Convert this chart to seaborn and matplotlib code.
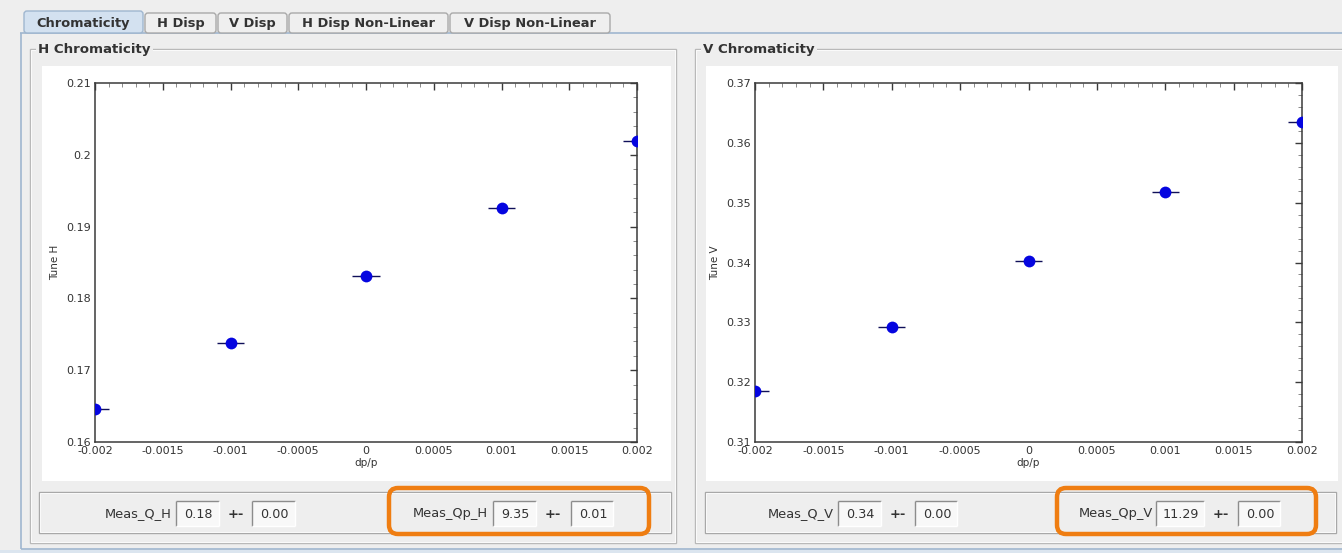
import matplotlib
matplotlib.use("Agg")
import matplotlib.pyplot as plt
import numpy as np
import pandas as pd
import seaborn as sns
from matplotlib.patches import Rectangle, FancyBboxPatch
from matplotlib.ticker import MultipleLocator, AutoMinorLocator, FuncFormatter

# ---- data -------------------------------------------------------------
dp_p = [-0.002, -0.001, 0.0, 0.001, 0.002]
tune_h = [0.1646, 0.1738, 0.1831, 0.1926, 0.2019]
tune_v = [0.3185, 0.3292, 0.3403, 0.3518, 0.3635]
dp_err = [0.0001, 0.0001, 0.0001, 0.0001, 0.0001]

tab_names = ["Chromaticity", "H Disp", "V Disp", "H Disp Non-Linear", "V Disp Non-Linear"]
group_titles = ["H Chromaticity", "V Chromaticity"]
y_labels = ["Tune H", "Tune V"]
x_label = "dp/p"
meas_q_labels = ["Meas_Q_H", "Meas_Q_V"]
meas_q_values = ["0.18", "0.34"]
meas_q_errors = ["0.00", "0.00"]
meas_qp_labels = ["Meas_Qp_H", "Meas_Qp_V"]
meas_qp_values = ["9.35", "11.29"]
meas_qp_errors = ["0.01", "0.00"]

# ---- style ------------------------------------------------------------
sns.set_theme(style="white")
plt.rcParams["font.family"] = ["DejaVu Sans"]
plt.rcParams["axes.unicode_minus"] = False

W, H = 1342, 553
BG = "#eeeeee"
TXT = "#333333"
fig = plt.figure(figsize=(W / 100, H / 100), dpi=100, facecolor=BG)

# full-figure canvas in pixel units for the window furniture
bg = fig.add_axes([0, 0, 1, 1], zorder=0)
bg.set_xlim(0, W)
bg.set_ylim(H, 0)
bg.axis("off")
bg.set_facecolor(BG)


def rect(x0, y0, x1, y1, fc="none", ec="none", lw=1.0, z=1):
    bg.add_patch(Rectangle((x0, y0), x1 - x0, y1 - y0, facecolor=fc,
                           edgecolor=ec, linewidth=lw, zorder=z))


def hline(x0, x1, y, c, lw=1.0, z=2):
    bg.plot([x0, x1], [y, y], color=c, lw=lw, zorder=z, solid_capstyle="butt")


def vline(x, y0, y1, c, lw=1.0, z=2):
    bg.plot([x, x], [y0, y1], color=c, lw=lw, zorder=z, solid_capstyle="butt")


# tabbed pane
tab_spans = [(24, 143), (145, 216), (218, 287), (289, 448), (450, 610)]
hline(20, W, 33, "#9fb6cf", lw=1.2)
vline(21, 33, 549, "#9fb6cf", lw=1.2)
hline(21, W, 549, "#9fb6cf", lw=1.2)
rect(0, 550, W, H, fc="#dbe5ef", z=1)
for i, ((x0, x1), name) in enumerate(zip(tab_spans, tab_names)):
    selected = i == 0
    fc = "#d3e1f0" if selected else "#efefef"
    ec = "#9fb6cf" if selected else "#a9a9a9"
    y_top = 11 if selected else 13
    bg.add_patch(FancyBboxPatch((x0, y_top), x1 - x0, 33 - y_top,
                                boxstyle="round,pad=0,rounding_size=3",
                                facecolor=fc, edgecolor=ec, linewidth=1.0, zorder=3))
    bg.text((x0 + x1) / 2, 23, name, ha="center", va="center", fontsize=9.4,
            fontweight="bold", color=TXT, zorder=4)

# group boxes with etched borders and titles
group_spans = [(30, 676), (695, W + 5)]
for (x0, x1), title in zip(group_spans, group_titles):
    rect(x0, 49, x1, 543, ec="#b9b9b9", lw=1.0, z=2)
    rect(x0 + 1, 50, x1 - 1, 542, ec="#ffffff", lw=0.6, z=2)
    t = bg.text(x0 + 8, 49, title, ha="left", va="center", fontsize=9.6,
                fontweight="bold", color=TXT, zorder=4)
    t.set_bbox(dict(facecolor=BG, edgecolor="none", pad=1.5))

# white chart panels
panel_spans = [(42, 671), (706, 1338)]
for x0, x1 in panel_spans:
    rect(x0, 66, x1, 481, fc="white", z=2)

# bottom measurement panels
meas_panel_spans = [(39, 671), (705, 1336)]
for x0, x1 in meas_panel_spans:
    rect(x0, 492, x1, 533, fc=BG, ec="#a8a8a8", lw=1.0, z=2)
    rect(x0 + 1, 493, x1 - 1, 532, ec="#ffffff", lw=0.6, z=2)


def field(x0, x1, text):
    y0, y1 = 501, 526
    rect(x0, y0, x1, y1, fc="#f8f8f8", z=3)
    hline(x0, x1, y0, "#8c8c8c", lw=1.0, z=4)
    vline(x0, y0, y1, "#8c8c8c", lw=1.0, z=4)
    hline(x0, x1, y1, "#ffffff", lw=1.0, z=4)
    vline(x1, y0, y1, "#ffffff", lw=1.0, z=4)
    bg.text((x0 + x1) / 2 + 1, (y0 + y1) / 2 + 0.5, text, ha="center", va="center",
            fontsize=9.2, color=TXT, zorder=5)


layouts = [
    dict(q_lab=172, q_f=(176, 219), q_pm=236, q_e=(252, 295),
         qp_lab=488, qp_f=(493, 536), qp_pm=553, qp_e=(571, 613), box=(389, 649)),
    dict(q_lab=834, q_f=(838, 881), q_pm=898, q_e=(915, 957),
         qp_lab=1153, qp_f=(1156, 1204), qp_pm=1221, qp_e=(1238, 1280), box=(1057, 1316)),
]
for k, L in enumerate(layouts):
    bg.text(L["q_lab"], 514, meas_q_labels[k], ha="right", va="center",
            fontsize=9.4, color=TXT, zorder=5)
    field(*L["q_f"], meas_q_values[k])
    bg.text(L["q_pm"], 514, "+-", ha="center", va="center", fontsize=9.4,
            fontweight="bold", color=TXT, zorder=5)
    field(*L["q_e"], meas_q_errors[k])
    bg.text(L["qp_lab"], 514, meas_qp_labels[k], ha="right", va="center",
            fontsize=9.4, color=TXT, zorder=5)
    field(*L["qp_f"], meas_qp_values[k])
    bg.text(L["qp_pm"], 514, "+-", ha="center", va="center", fontsize=9.4,
            fontweight="bold", color=TXT, zorder=5)
    field(*L["qp_e"], meas_qp_errors[k])
    bx0, bx1 = L["box"]
    bg.add_patch(FancyBboxPatch((bx0, 488), bx1 - bx0, 46,
                                boxstyle="round,pad=0,rounding_size=9",
                                facecolor="none", edgecolor="#ef7d11",
                                linewidth=3.2, zorder=6))

# ---- the two chromaticity charts ---------------------------------------


def tick_fmt(v, _pos):
    if abs(v) < 1e-12:
        return "0"
    return f"{round(v, 6):g}"


axes_px = [(95, 637), (755, 1302)]
y_ranges = [(0.16, 0.21), (0.31, 0.37)]
series = [tune_h, tune_v]

for k in range(2):
    x0, x1 = axes_px[k]
    ax = fig.add_axes([x0 / W, (H - 442) / H, (x1 - x0) / W, 359 / H], zorder=3)
    ax.set_facecolor("white")
    df = pd.DataFrame({"dp": dp_p, "tune": series[k], "err": dp_err})
    ax.errorbar(df["dp"], df["tune"], xerr=df["err"], fmt="none",
                ecolor="#10105a", elinewidth=1.0, capsize=0, zorder=3)
    sns.scatterplot(data=df, x="dp", y="tune", ax=ax, color="#0505e0",
                    s=72, edgecolor="#0505e0", linewidth=0, zorder=4)
    ax.set_xlim(-0.002, 0.002)
    ax.set_ylim(*y_ranges[k])
    ax.xaxis.set_major_locator(MultipleLocator(0.0005))
    ax.yaxis.set_major_locator(MultipleLocator(0.01))
    ax.xaxis.set_minor_locator(AutoMinorLocator(5))
    ax.yaxis.set_minor_locator(AutoMinorLocator(5))
    ax.xaxis.set_major_formatter(FuncFormatter(tick_fmt))
    ax.yaxis.set_major_formatter(FuncFormatter(tick_fmt))
    for s in ax.spines.values():
        s.set_color("#3a3a3a")
        s.set_linewidth(1.1)
    ax.tick_params(which="major", direction="in", length=5, width=1.0,
                   color="#3a3a3a", labelsize=8, labelcolor=TXT,
                   top=True, right=True, pad=3)
    ax.tick_params(which="minor", direction="in", length=3, width=0.7,
                   color="#8a8a8a", top=True, right=True)
    ax.set_xlabel(x_label, fontsize=7.5, color=TXT, labelpad=1)
    ax.set_ylabel(y_labels[k], fontsize=7.5, color=TXT, labelpad=4)

fig.savefig("out.png", dpi=100, facecolor=BG)
